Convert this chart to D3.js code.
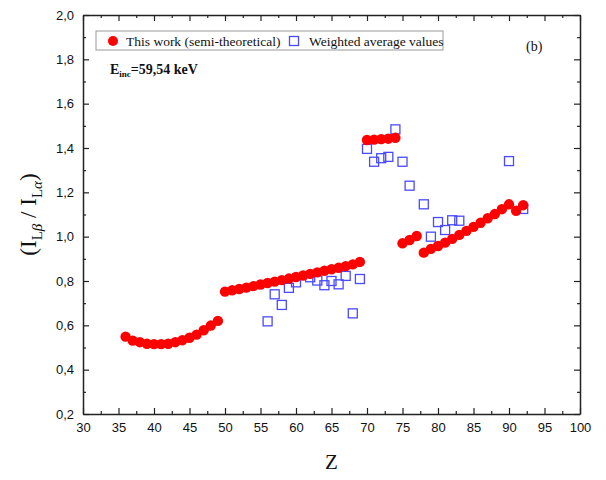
<!DOCTYPE html>
<html><head><meta charset="utf-8">
<script src="https://cdn.jsdelivr.net/npm/d3@7"></script>
<style>body{margin:0;background:#fff}svg{display:block}</style>
</head><body>
<svg id="c" width="606" height="480"></svg>
<script>
// ---- data ----
const redZ = [36,37,38,39,40,41,42,43,44,45,46,47,48,49,
  50,51,52,53,54,55,56,57,58,59,60,61,62,63,64,65,66,67,68,69,
  70,71,72,73,74,
  75,76,77,
  78,79,80,81,82,83,84,85,86,87,88,89,90,91,92];
const redV = [0.549,0.531,0.524,0.517,0.515,0.515,0.517,0.524,0.533,0.544,0.558,0.578,0.599,0.620,
  0.752,0.758,0.764,0.770,0.777,0.784,0.791,0.797,0.804,0.811,0.818,0.825,0.832,0.839,0.846,0.853,0.860,0.867,0.875,0.886,
  1.436,1.438,1.440,1.442,1.446,
  0.970,0.985,1.003,
  0.928,0.945,0.958,0.973,0.990,1.008,1.026,1.044,1.063,1.083,1.102,1.124,1.146,1.117,1.142];
const blueZ = [56,57,58,59,60,62,63,64,65,66,67,68,69,70,71,72,73,74,75,76,78,79,80,81,82,83,90,92];
const blueV = [0.618,0.740,0.692,0.769,0.794,0.817,0.802,0.781,0.800,0.785,0.823,0.654,0.809,
  1.396,1.338,1.354,1.360,1.484,1.338,1.230,1.146,1.000,1.066,1.030,1.074,1.072,1.341,1.125];
const xTicks = [30,35,40,45,50,55,60,65,70,75,80,85,90,95,100];
const yTicks = [0.2,0.4,0.6,0.8,1.0,1.2,1.4,1.6,1.8,2.0];
const seriesNames = ["This work (semi-theoretical)", "Weighted average values"];

// ---- layout ----
const L=83, R=580, T=15, B=414;
const svg = d3.select("#c");
const x = d3.scaleLinear().domain([30,100]).range([L,R]);
const y = d3.scaleLinear().domain([0.2,2.0]).range([B,T]);
const fmt = d => d3.format(".1f")(d).replace(".", ",");
const axisCol = "#222";

const xMinor = d3.range(32.5, 100, 5);
const yMinor = d3.range(0.3, 2.0, 0.2).map(v => +v.toFixed(1));

function drawAxis(gen, tf, major, minor, showLabels, isX) {
  const g = svg.append("g").attr("transform", tf);
  g.call(gen.tickValues(major).tickSizeInner(-6).tickSizeOuter(0).tickPadding(showLabels ? 9 : 0)
     .tickFormat(showLabels ? (isX ? d3.format("d") : fmt) : ""));
  const gm = svg.append("g").attr("transform", tf);
  gm.call(gen.tickValues(minor).tickSizeInner(-3).tickSizeOuter(0).tickFormat(""));
  gm.select(".domain").remove();
  [g, gm].forEach(s => {
    s.selectAll("line").attr("stroke", axisCol).attr("stroke-width", 1.2);
    s.select(".domain").attr("stroke", axisCol).attr("stroke-width", 1.5);
  });
  g.selectAll("text").attr("font-family", "Liberation Sans, Arial, sans-serif").attr("font-size", 13).attr("fill", "#111");
  return g;
}
drawAxis(d3.axisBottom(x), `translate(0,${B})`, xTicks, xMinor, true, true);
drawAxis(d3.axisTop(x), `translate(0,${T})`, xTicks, xMinor, false, true);
drawAxis(d3.axisLeft(y), `translate(${L},0)`, yTicks, yMinor, true, false);
drawAxis(d3.axisRight(y), `translate(${R},0)`, yTicks, yMinor, false, false);

// ---- data marks (blue first, red on top) ----
const redColor = "#ff0000", blueColor = "#4a4aff";
const s = 9;
svg.append("g").selectAll("rect").data(blueZ.map((z,i)=>[z,blueV[i]])).join("rect")
  .attr("x", d=>x(d[0])-s/2).attr("y", d=>y(d[1])-s/2).attr("width", s).attr("height", s)
  .attr("fill", "none").attr("stroke", blueColor).attr("stroke-width", 1.3);
svg.append("g").selectAll("circle").data(redZ.map((z,i)=>[z,redV[i]])).join("circle")
  .attr("cx", d=>x(d[0])).attr("cy", d=>y(d[1])).attr("r", 5.2).attr("fill", redColor);

// ---- legend ----
const lg = svg.append("g");
lg.append("rect").attr("x", 96).attr("y", 31).attr("width", 347).attr("height", 19)
  .attr("fill", "#fff").attr("stroke", "#999").attr("stroke-width", 1);
lg.append("circle").attr("cx", 113).attr("cy", 41).attr("r", 5).attr("fill", redColor);
lg.append("text").attr("x", 126).attr("y", 45.5).text(seriesNames[0])
  .attr("font-family", "Liberation Serif, Times New Roman, serif").attr("font-size", 13.5).attr("fill", "#111");
lg.append("rect").attr("x", 289.5).attr("y", 36.5).attr("width", 9).attr("height", 9)
  .attr("fill", "none").attr("stroke", blueColor).attr("stroke-width", 1.3);
lg.append("text").attr("x", 309).attr("y", 45.5).text(seriesNames[1])
  .attr("font-family", "Liberation Serif, Times New Roman, serif").attr("font-size", 13.5).attr("fill", "#111");

svg.append("text").attr("x", 526).attr("y", 51).text("(b)")
  .attr("font-family", "Liberation Serif, Times New Roman, serif").attr("font-size", 14).attr("fill", "#111");

const et = svg.append("text").attr("x", 110).attr("y", 74)
  .attr("font-family", "Liberation Serif, Times New Roman, serif").attr("font-size", 14)
  .attr("font-weight", "bold").attr("fill", "#111");
et.append("tspan").text("E");
et.append("tspan").attr("font-size", 9).attr("dy", 3).text("inc");
et.append("tspan").attr("dy", -3).text("=59,54 keV");

svg.append("text").attr("x", (L+R)/2).attr("y", 469).attr("text-anchor", "middle")
  .attr("font-family", "Liberation Serif, Times New Roman, serif").attr("font-size", 21).attr("fill", "#111").text("Z");
const yt = svg.append("text").attr("transform", `translate(36,${(T+B)/2}) rotate(-90)`).attr("text-anchor", "middle")
  .attr("font-family", "Liberation Serif, Times New Roman, serif").attr("font-size", 23).attr("fill", "#111");
yt.append("tspan").text("(I");
yt.append("tspan").attr("font-size", 15).attr("dy", 6).text("L");
yt.append("tspan").attr("font-size", 15).attr("font-style", "italic").text("β");
yt.append("tspan").attr("dy", -6).text(" / I");
yt.append("tspan").attr("font-size", 15).attr("dy", 6).text("L");
yt.append("tspan").attr("font-size", 15).attr("font-style", "italic").text("α");
yt.append("tspan").attr("dy", -6).text(")");
</script>
</body></html>
